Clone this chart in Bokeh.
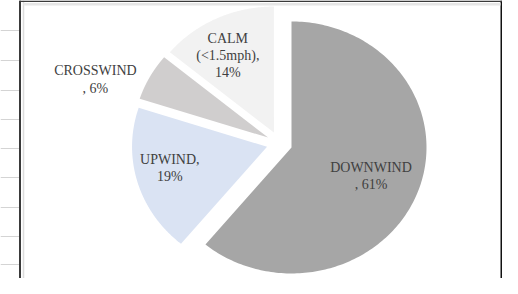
import numpy as np
from bokeh.plotting import figure
from bokeh.models import Range1d, Span, Grid, FixedTicker, BoxAnnotation, ColumnDataSource
from bokeh.core.properties import value
from bokeh.embed import file_html
from bokeh.resources import INLINE

# ---- data ----
categories = ["DOWNWIND", "UPWIND", "CROSSWIND", "CALM\n(<1.5mph)"]
percent = [61, 19, 6, 14]
separators = ["\n, ", ",\n", "\n, ", ",\n"]
colors = ["#a6a6a6", "#dae3f3", "#d0cece", "#f2f2f2"]

# ---- layout (pixel coordinates of the picture) ----
W, H = 502, 278
cx, cy = 278.9, 142.9
rx, ry = 135.0, 126.0
explode = 12.0
stretch = rx / ry
label_radius = [0.63, 0.74, 1.36, 0.70]
label_shift = [1.0, 3.0, -9.0, -4.0]
sheet_rows = [30, 60, 90, 119, 148, 177, 207, 236, 264]

p = figure(width=W, height=H, x_range=Range1d(0, W), y_range=Range1d(H, 0),
           x_axis_type=None, y_axis_type=None, toolbar_location=None,
           output_backend="svg", min_border=0)
p.outline_line_color = None
p.background_fill_color = "white"
p.border_fill_color = "white"

# spreadsheet strip on the left and chart-area frame
p.add_layout(Grid(dimension=1, ticker=FixedTicker(ticks=sheet_rows),
                  grid_line_color="#d4d4d4", grid_line_width=1))
p.add_layout(BoxAnnotation(left=20, fill_color="white", fill_alpha=1.0,
                           line_color=None, level="underlay"))
p.add_layout(Span(location=19.5, dimension="height", line_color="#3a3a3a", line_width=2))
p.add_layout(Span(location=23, dimension="height", line_color="#dcdcdc", line_width=1.5))
p.add_layout(Span(location=W - 1, dimension="height", line_color="#111111", line_width=2))
p.add_layout(BoxAnnotation(left=19, right=W, top=0, bottom=1.5, fill_color="#3a3a3a",
                           fill_alpha=1.0, line_color=None))
p.add_layout(BoxAnnotation(left=23, right=W - 2, top=2.5, bottom=5, fill_color="#e6e6e6",
                           fill_alpha=1.0, line_color=None))

# ---- pie slices (clockwise from 12 o'clock, all exploded) ----
vals = np.array(percent, dtype=float)
frac = vals / vals.sum()
ends = np.cumsum(frac) * 360.0
starts = ends - frac * 360.0

xs, ys, lx, ly, texts = [], [], [], [], []
for i in range(len(vals)):
    a0, a1 = np.radians(starts[i]), np.radians(ends[i])
    mid = (a0 + a1) / 2
    ax = cx + explode * stretch * np.sin(mid)
    ay = cy - explode * np.cos(mid)
    t = np.linspace(a0, a1, 200)
    xs.append(np.concatenate([[ax], ax + rx * np.sin(t)]))
    ys.append(np.concatenate([[ay], ay - ry * np.cos(t)]))
    la = mid + np.radians(label_shift[i])
    lx.append(ax + label_radius[i] * rx * np.sin(la))
    ly.append(ay - label_radius[i] * ry * np.cos(la))
    texts.append(f"{categories[i]}{separators[i]}{percent[i]}%")

src = ColumnDataSource(dict(xs=xs, ys=ys, color=colors, name=categories))
p.patches("xs", "ys", source=src, fill_color="color", line_color=None)

lsrc = ColumnDataSource(dict(x=lx, y=ly, text=texts))
p.text("x", "y", text="text", source=lsrc, text_align="center", text_baseline="middle",
       text_font=value("Liberation Serif"), text_font_size="14px",
       text_color="#404040", text_line_height=1.15)

open("out.html", "w").write(file_html(p, INLINE))
